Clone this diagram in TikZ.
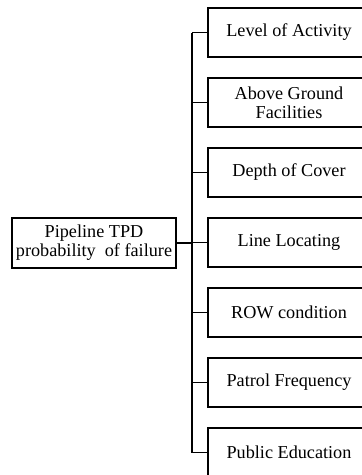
\documentclass[tikz,border=0pt]{standalone}
\usepackage{fontspec}
\setmainfont{Liberation Serif}
\usetikzlibrary{positioning}

\tikzset{
  factor/.style={draw, line width=1.4pt, anchor=west, minimum width=162, minimum height=49, inner sep=0pt, outer sep=0pt, align=center},
  root/.style={draw, line width=1.4pt, minimum width=164, minimum height=50, inner sep=0pt, outer sep=0pt, align=center},
  link/.style={line width=1.4pt}
}

\begin{document}
\begin{tikzpicture}[x=1pt, y=-1pt, font=\fontsize{18.2}{19}\selectfont]
    % Frame (cuts off the right side of the boxes)
    \clip (0,0) rectangle (362,475);

    % Root node
    \node[root] (pof) at (94,243) {Pipeline TPD\\probability\ \ of failure};

    % Factor boxes
    \node[factor] (f1) at (208,32.5)  {Level of Activity};
    \node[factor, below=21pt of f1] (f2) {Above Ground\\Facilities};
    \node[factor, below=21pt of f2] (f3) {Depth of Cover};
    \node[factor, below=21pt of f3] (f4) {Line Locating};
    \node[factor, below=21pt of f4] (f5) {ROW condition};
    \node[factor, below=21pt of f5] (f6) {Patrol Frequency};
    \node[factor, below=21pt of f6] (f7) {Public Education};

    % Trunk line
    \coordinate (trunk) at (192,0);
    \draw[link] (pof.east) -- (pof.east -| trunk);
    \draw[link] (f1.west -| trunk) -- (f7.west -| trunk);

    % Branches to each factor
    \foreach \i in {1,...,7}
        \draw[link] (f\i.west -| trunk) -- (f\i.west);
\end{tikzpicture}
\end{document}
